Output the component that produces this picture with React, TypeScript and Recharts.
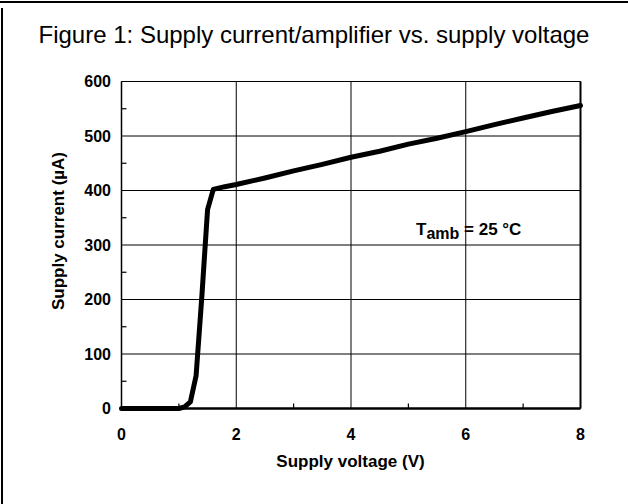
import { LineChart, Line, XAxis, YAxis, CartesianGrid, ReferenceLine } from "recharts";

const FONT = '"Liberation Sans", Arial, Helvetica, sans-serif';

// supply voltage (V) and supply current (µA)
const voltage = [0, 0.2, 0.4, 0.6, 0.8, 1.0, 1.1, 1.2, 1.3, 1.4, 1.5, 1.6, 1.8, 2.0, 2.5, 3.0, 3.5, 4.0, 4.5, 5.0, 5.5, 6.0, 6.5, 7.0, 7.5, 8.0];
const current = [0, 0, 0, 0, 0, 0, 3, 12, 60, 205, 365, 402, 407, 411, 423, 436, 448, 461, 472, 485, 496, 508, 521, 533, 545, 556];

const xTicks = [0, 2, 4, 6, 8];
const xMinorTicks = [1, 3, 5, 7];
const yTicks = [0, 100, 200, 300, 400, 500, 600];
const yMinorTicks = [50, 150, 250, 350, 450, 550];

const data = voltage.map((v, i) => ({ v, i: current[i] }));
const yAllTicks = [...yTicks, ...yMinorTicks].sort((a, b) => a - b);

const tickStyle = { fill: "#000", fontSize: 16, fontWeight: 700, fontFamily: FONT };
const noLabel = () => "";
const Y_MARGIN = 10.5;

// labels on the major ticks, short inward marks on the minor ones
const YTick = (props: any) => {
  const { x, y, payload } = props;
  if (yTicks.includes(payload.value)) {
    return (
      <text x={x} y={y} dy="0.355em" textAnchor="end" {...tickStyle}>
        {payload.value}
      </text>
    );
  }
  return <line x1={x + Y_MARGIN} x2={x + Y_MARGIN + 5} y1={y} y2={y} stroke="#000" strokeWidth={1.2} />;
};

export default function App() {
  return (
    <div style={{ position: "fixed", left: 0, top: 0, width: 628, height: 504, background: "#fff", overflow: "hidden" }}>
      {/* outer frame */}
      <div style={{ position: "absolute", left: 0, top: 1, width: 628, height: 2, background: "#000" }} />
      <div style={{ position: "absolute", left: 1, top: 8, width: 2, height: 496, background: "#000" }} />

      <div style={{ position: "absolute", left: 0, top: 0 }}>
        <LineChart width={628} height={504} data={data} margin={{ top: 81.5, right: 47.5, bottom: 94.5, left: 120.5 }}>
          <XAxis xAxisId="minor" dataKey="v" type="number" domain={[0, 8]} ticks={xMinorTicks} mirror height={1}
            interval={0} tick={{ fontSize: 1 }} tickFormatter={noLabel} axisLine={false}
            tickLine={{ stroke: "#000", strokeWidth: 1.2 }} tickSize={5} />
          <XAxis dataKey="v" type="number" domain={[0, 8]} ticks={xTicks} height={1}
            tick={tickStyle} tickLine={false} tickSize={0} tickMargin={20}
            axisLine={{ stroke: "#000", strokeWidth: 2.5 }} />
          <YAxis type="number" domain={[0, 600]} ticks={yAllTicks} width={1} interval={0}
            tick={<YTick />} tickLine={false} tickSize={0} tickMargin={Y_MARGIN}
            axisLine={{ stroke: "#000", strokeWidth: 1.5 }} />
          <CartesianGrid stroke="#000" strokeWidth={1} horizontalValues={yTicks} verticalValues={xTicks} />
          <ReferenceLine x={8} stroke="#000" strokeWidth={2} />
          <Line dataKey="i" type="linear" stroke="#000" strokeWidth={5} dot={false}
            strokeLinejoin="round" strokeLinecap="round" isAnimationActive={false} />
        </LineChart>
      </div>

      <svg width={628} height={504} style={{ position: "absolute", left: 0, top: 0, pointerEvents: "none" }} fontFamily={FONT}>
        <text x={314} y={43} textAnchor="middle" fontSize={24} fill="#000">
          Figure 1: Supply current/amplifier vs. supply voltage
        </text>
        <text x={350.5} y={467} textAnchor="middle" fontSize={17} fontWeight={700} fill="#000">
          Supply voltage (V)
        </text>
        <text x={64} y={231} textAnchor="middle" fontSize={17} fontWeight={700} fill="#000" transform="rotate(-90 64 231)">
          Supply current (µA)
        </text>
        <text x={416} y={235} fontSize={17} fontWeight={700} fill="#000">
          T<tspan fontSize={16} dy={4}>amb</tspan><tspan dy={-4}> = 25 °C</tspan>
        </text>
      </svg>
    </div>
  );
}
